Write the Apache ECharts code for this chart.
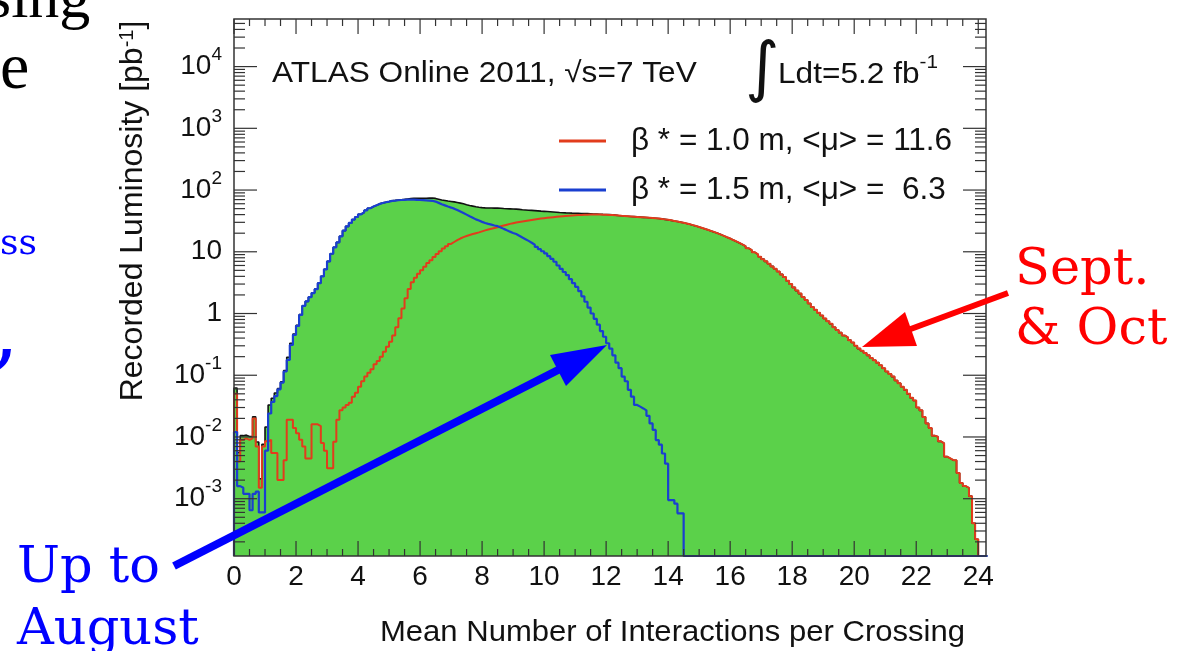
<!DOCTYPE html>
<html>
<head>
<meta charset="utf-8">
<script src="https://cdn.jsdelivr.net/npm/echarts@6/dist/echarts.min.js"></script>
<style>
html,body{margin:0;padding:0;background:#ffffff;}
#chart{width:1179px;height:651px;}
</style>
</head>
<body>
<div id="chart"></div>
<script>
// ---------------- data (0.1-wide bins starting at 0) ----------------
const binWidth = 0.1;

// beta* = 1.0 m (Sept. & Oct), recorded luminosity per bin [pb^-1]
const redValues = [
  0.05, 0.004, 0.009, 0.0095, 0.009, 0.0095, 0.02, 0.007, 0.0015, 0.007,
  0.0085, 0.009, 0.0055, 0.0055, 0.002, 0.002, 0.0042, 0.019, 0.019, 0.014,
  0.0115, 0.009, 0.007, 0.0045, 0.0045, 0.016, 0.016, 0.015, 0.008, 0.006,
  0.0031, 0.0031, 0.0084, 0.019, 0.027, 0.03, 0.033, 0.036, 0.045, 0.052,
  0.065, 0.08, 0.095, 0.11, 0.125, 0.15, 0.17, 0.2, 0.24, 0.29,
  0.35, 0.44, 0.6, 0.84, 1.2, 1.77, 2.5, 3.2, 3.8, 4.4,
  5.0, 5.7, 6.6, 7.3, 8.2, 9.2, 10.2, 11.3, 12.3, 13.4,
  14.4, 15.4, 16.4, 17.3, 18.0, 18.7, 19.4, 20.0, 20.6, 21.4,
  22.2, 22.9, 23.6, 24.3, 25.0, 25.9, 26.7, 27.5, 28.3, 29.0,
  29.7, 30.4, 31.0, 31.6, 32.2, 32.8, 33.4, 34.0, 34.5, 35.0,
  35.5, 36.0, 36.4, 36.8, 37.2, 37.6, 38.0, 38.4, 38.7, 39.0,
  39.3, 39.5, 39.7, 39.9, 40.0, 40.0, 40.0, 40.0, 39.9, 39.8,
  39.6, 39.3, 39.0, 38.6, 38.2, 37.9, 37.6, 37.3, 37.0, 36.7,
  36.4, 36.1, 35.8, 35.5, 35.2, 34.9, 34.6, 34.1, 33.5, 32.9,
  32.3, 31.6, 30.9, 30.2, 29.5, 28.7, 27.9, 27.0, 26.1, 25.2,
  24.3, 23.4, 22.5, 21.6, 20.8, 19.9, 19.0, 18.1, 17.2, 16.4,
  15.5, 14.7, 13.9, 13.1, 12.3, 11.4, 10.6, 9.8, 9.1, 8.3,
  7.6, 7.0, 6.4, 5.8, 5.3, 4.8, 4.3, 3.9, 3.4, 3.0,
  2.65, 2.35, 2.1, 1.85, 1.65, 1.45, 1.28, 1.15, 1.03, 0.93,
  0.83, 0.75, 0.68, 0.6, 0.54, 0.49, 0.44, 0.41, 0.37, 0.34,
  0.30, 0.27, 0.25, 0.23, 0.21, 0.19, 0.175, 0.16, 0.145, 0.13,
  0.115, 0.105, 0.095, 0.082, 0.074, 0.065, 0.058, 0.05, 0.043, 0.039,
  0.03, 0.027, 0.021, 0.0166, 0.014, 0.0105, 0.0101, 0.0085, 0.0079, 0.0048,
  0.0045, 0.0042, 0.0042, 0.0026, 0.0018, 0.0016, 0.0015, 0.0011, 0.0004, 0.00022,
  0, 0, 0
];

// beta* = 1.5 m (up to August)
const blueValues = [
  0.012, 0.0016, 0.0015, 0.0012, 0.0012, 0.00065, 0.0012, 0.0013, 0.0006, 0.0006,
  0.006, 0.024, 0.037, 0.046, 0.059, 0.076, 0.115, 0.177, 0.31, 0.45,
  0.63, 0.95, 1.33, 1.57, 1.84, 2.14, 2.48, 3.1, 4.0, 5.2,
  7.0, 9.3, 11.8, 14.2, 17.8, 22, 25.8, 29.3, 33.2, 36.6,
  40.5, 43.6, 47, 50.7, 54, 56.7, 59.6, 61.8, 63.4, 65,
  66.7, 67.5, 68.4, 69, 69.5, 70, 70, 70, 69.5, 69,
  68.5, 68, 67.5, 67, 65, 62, 59, 56.5, 54, 52,
  50, 47.5, 45, 42.5, 40, 37.6, 35.5, 33.5, 32, 30.5,
  29.3, 28.3, 27.5, 26.7, 26, 24.8, 23.5, 22.3, 21.2, 20.2,
  19.4, 18.2, 17, 16, 15, 14, 13, 12, 11, 10.2,
  9.4, 8.5, 7.7, 6.9, 6.0, 5.3, 4.7, 4.2, 3.6, 3.1,
  2.7, 2.3, 1.9, 1.55, 1.25, 1.0, 0.82, 0.66, 0.52, 0.42,
  0.33, 0.27, 0.21, 0.16, 0.13, 0.095, 0.08, 0.058, 0.045, 0.033,
  0.031, 0.029, 0.027, 0.022, 0.0166, 0.013, 0.0089, 0.0075, 0.0054, 0.0037,
  0.00095, 0.00095, 0.00083, 0.00058, 0.00058, 0, 0, 0, 0, 0,
  0, 0, 0, 0, 0, 0, 0, 0, 0, 0,
  0, 0, 0, 0, 0, 0, 0, 0, 0, 0,
  0, 0, 0, 0, 0, 0, 0, 0, 0, 0,
  0, 0, 0, 0, 0, 0, 0, 0, 0, 0,
  0, 0, 0, 0, 0, 0, 0, 0, 0, 0,
  0, 0, 0, 0, 0, 0, 0, 0, 0, 0,
  0, 0, 0, 0, 0, 0, 0, 0, 0, 0,
  0, 0, 0, 0, 0, 0, 0, 0, 0, 0,
  0, 0, 0, 0, 0, 0, 0, 0, 0, 0,
  0, 0, 0
];

const xTickLabels = [0, 2, 4, 6, 8, 10, 12, 14, 16, 18, 20, 22, 24];
const yTickExponents = [-3, -2, -1, 0, 1, 2, 3, 4];
const redName = 'β * = 1.0 m, <μ> = 11.6';
const blueName = 'β * = 1.5 m, <μ> =  6.3';

// ---------------- chart ----------------
const Y_MIN = 1.18e-4, Y_MAX = 5.9e4, X_MAX = 24.25;
const SANS = "'Liberation Sans', Arial, 'DejaVu Sans', sans-serif";
const SERIF = "'DejaVu Serif', 'Liberation Serif', serif";

const totalValues = redValues.map((v, i) => v + blueValues[i]);

function histPoints(vals) {
  const pts = [[0, Y_MIN]];
  for (let i = 0; i < vals.length; i++) {
    pts.push([+(i * binWidth).toFixed(2), vals[i] > 0 ? vals[i] : Y_MIN]);
  }
  pts.push([+(vals.length * binWidth).toFixed(2), Y_MIN]);
  return pts;
}

// tick positions (kind: 0 x-major, 1 x-minor, 2 y-major, 3 y-minor, 4 frame)
const tickData = [];
xTickLabels.forEach((m, k) => {
  tickData.push([m, 1, 0]);
  if (k < xTickLabels.length - 1) {
    [0.5, 1, 1.5].forEach(d => tickData.push([m + d, 1, 1]));
  }
});
for (let e = yTickExponents[0] - 1; e <= yTickExponents[yTickExponents.length - 1]; e++) {
  const dec = Math.pow(10, e);
  if (yTickExponents.indexOf(e) >= 0) tickData.push([1, dec, 2]);
  for (let k = 2; k <= 9; k++) {
    const v = k * dec;
    if (v > Y_MIN && v < Y_MAX) tickData.push([1, v, 3]);
  }
}
tickData.push([1, 1, 4]);

function renderTicks(params, api) {
  const cs = params.coordSys;
  const kind = api.value(2);
  const L = cs.x, R = cs.x + cs.width, T = cs.y, B = cs.y + cs.height;
  const st = { stroke: '#333', lineWidth: 1.2 };
  if (kind === 4) {
    return { type: 'rect', shape: { x: L, y: T, width: cs.width, height: cs.height },
             style: { fill: 'transparent', stroke: '#333', lineWidth: 1.5 } };
  }
  if (kind <= 1) {
    const px = api.coord([api.value(0), 1])[0];
    const len = kind === 0 ? 15 : 7;
    return { type: 'group', children: [
      { type: 'line', shape: { x1: px, y1: B, x2: px, y2: B - len }, style: st },
      { type: 'line', shape: { x1: px, y1: T, x2: px, y2: T + len }, style: st }
    ]};
  }
  const py = api.coord([1, api.value(1)])[1];
  const len = kind === 2 ? 23 : 11;
  return { type: 'group', children: [
    { type: 'line', shape: { x1: L, y1: py, x2: L + len, y2: py }, style: st },
    { type: 'line', shape: { x1: R, y1: py, x2: R - len, y2: py }, style: st }
  ]};
}

const chart = echarts.init(document.getElementById('chart'), null, { renderer: 'canvas' });

const option = {
  animation: false,
  backgroundColor: '#ffffff',
  grid: { left: 234, right: 193, top: 19, bottom: 95, containLabel: false, outerBoundsMode: 'none' },
  xAxis: {
    type: 'value', min: 0, max: X_MAX, interval: 2,
    axisLine: { show: false }, axisTick: { show: false }, splitLine: { show: false },
    axisLabel: {
      fontSize: 28, fontFamily: SANS, color: '#111', margin: 7,
      formatter: v => (xTickLabels.indexOf(v) >= 0 ? String(v) : '')
    }
  },
  yAxis: {
    type: 'log', logBase: 10, min: Y_MIN, max: Y_MAX,
    axisLine: { show: false }, axisTick: { show: false }, splitLine: { show: false },
    axisLabel: {
      fontSize: 28, fontFamily: SANS, color: '#111', margin: 12, padding: [0, 0, 7, 0],
      formatter: function (v) {
        const lg = Math.log10(v);
        const e = Math.round(lg);
        if (Math.abs(lg - e) > 1e-6 || yTickExponents.indexOf(e) < 0) return '';
        if (e === 0) return '{b|1}';
        if (e === 1) return '{b|10}';
        return '{b|10}{s|' + e + '}';
      },
      rich: {
        b: { fontSize: 28, fontFamily: SANS, color: '#111', padding: [7, 0, 0, 0], verticalAlign: 'bottom' },
        s: { fontSize: 19, fontFamily: SANS, color: '#111', verticalAlign: 'top' }
      }
    }
  },
  legend: {
    orient: 'vertical', left: 554, top: 120, itemWidth: 47, itemHeight: 3, itemGap: 17,
    icon: 'rect', selectedMode: false,
    data: [redName, blueName],
    textStyle: { fontSize: 31.5, fontFamily: SANS, color: '#111', padding: [0, 0, 0, 20] }
  },
  series: [
    {
      name: 'total', type: 'line', step: 'end', data: histPoints(totalValues),
      showSymbol: false, symbol: 'none', silent: true, z: 2,
      lineStyle: { color: '#111', width: 1.6 },
      itemStyle: { color: '#111' },
      areaStyle: { color: '#5bd14a', opacity: 1, origin: 'start' }
    },
    {
      name: redName, type: 'line', step: 'end', data: histPoints(redValues),
      showSymbol: false, symbol: 'none', silent: true, z: 3,
      lineStyle: { color: '#e23c1c', width: 2 },
      itemStyle: { color: '#e23c1c' }
    },
    {
      name: blueName, type: 'line', step: 'end', data: histPoints(blueValues),
      showSymbol: false, symbol: 'none', silent: true, z: 4,
      lineStyle: { color: '#1a3fd0', width: 2.2 },
      itemStyle: { color: '#1a3fd0' }
    },
    {
      name: 'ticks', type: 'custom', data: tickData, renderItem: renderTicks,
      encode: { x: 0, y: 1 }, silent: true, clip: false, z: 6
    }
  ],
  graphic: [
    { type: 'text', x: 272, y: 74, scaleX: 1.09, z: 100,
      style: { text: 'ATLAS Online 2011, √s=7 TeV', fontSize: 29, fontFamily: SANS, fill: '#111', verticalAlign: 'middle' } },
    { type: 'text', x: 745, y: 72, z: 100,
      style: { text: '∫', fontSize: 66, fontFamily: "'DejaVu Sans', sans-serif", fill: '#111', verticalAlign: 'middle' } },
    { type: 'text', x: 778, y: 71, scaleX: 1.09, z: 100,
      style: { text: '{b|Ldt=5.2 fb}{s|-1}', fontSize: 29, fontFamily: SANS, fill: '#111', verticalAlign: 'middle',
               rich: {
                 b: { fontSize: 29, fontFamily: SANS, fill: '#111', padding: [7, 0, 0, 0], verticalAlign: 'bottom' },
                 s: { fontSize: 19, fontFamily: SANS, fill: '#111', verticalAlign: 'top' }
               } } },
    { type: 'text', x: 133, y: 211, rotation: Math.PI / 2, z: 100,
      style: { text: 'Recorded Luminosity [pb{s|-1}]', fontSize: 32, fontFamily: SANS, fill: '#111',
               align: 'center', verticalAlign: 'middle',
               rich: { s: { fontSize: 20, fontFamily: SANS, fill: '#111', verticalAlign: 'top', lineHeight: 14 } } } },
    { type: 'text', x: 965, y: 633, scaleX: 1.035, z: 100,
      style: { text: 'Mean Number of Interactions per Crossing', fontSize: 30, fontFamily: SANS, fill: '#111',
               align: 'right', verticalAlign: 'middle' } },

    // slide annotations
    { type: 'text', x: -13, y: 1, z: 100,
      style: { text: 'sing', fontSize: 62, fontFamily: "'Liberation Serif', serif", fill: '#000', verticalAlign: 'middle' } },
    { type: 'text', x: 0, y: 71, z: 100,
      style: { text: 'e', fontSize: 66, fontFamily: "'Liberation Serif', serif", fill: '#000', verticalAlign: 'middle' } },
    { type: 'text', x: 0, y: 245, z: 100,
      style: { text: 'ss', fontSize: 36, fontFamily: SERIF, fill: '#0000ff', verticalAlign: 'middle' } },
    { type: 'text', x: -8, y: 337, z: 100,
      style: { text: ',', fontSize: 86, fontFamily: SERIF, fill: '#0000ff', verticalAlign: 'middle' } },
    { type: 'text', x: 17, y: 569, z: 100,
      style: { text: 'Up to', fontSize: 51, fontFamily: SERIF, fill: '#0000ff', verticalAlign: 'middle' } },
    { type: 'text', x: 17, y: 631, z: 100,
      style: { text: 'August', fontSize: 51, fontFamily: SERIF, fill: '#0000ff', verticalAlign: 'middle' } },
    { type: 'text', x: 1015, y: 271, z: 100,
      style: { text: 'Sept.', fontSize: 51, fontFamily: SERIF, fill: '#ff0000', verticalAlign: 'middle' } },
    { type: 'text', x: 1015, y: 331, z: 100,
      style: { text: '& Oct', fontSize: 51, fontFamily: SERIF, fill: '#ff0000', verticalAlign: 'middle' } },

    // arrows
    { type: 'line', z: 100, shape: { x1: 174, y1: 566, x2: 562, y2: 368 },
      style: { stroke: '#0000ff', lineWidth: 8 } },
    { type: 'polygon', z: 100, shape: { points: [[607, 345], [566, 386], [550, 355]] },
      style: { fill: '#0000ff' } },
    { type: 'line', z: 100, shape: { x1: 1008, y1: 293, x2: 908, y2: 330 },
      style: { stroke: '#ff0000', lineWidth: 6 } },
    { type: 'polygon', z: 100, shape: { points: [[862, 347], [917, 346], [905, 312]] },
      style: { fill: '#ff0000' } }
  ]
};

chart.setOption(option);
</script>
</body>
</html>
